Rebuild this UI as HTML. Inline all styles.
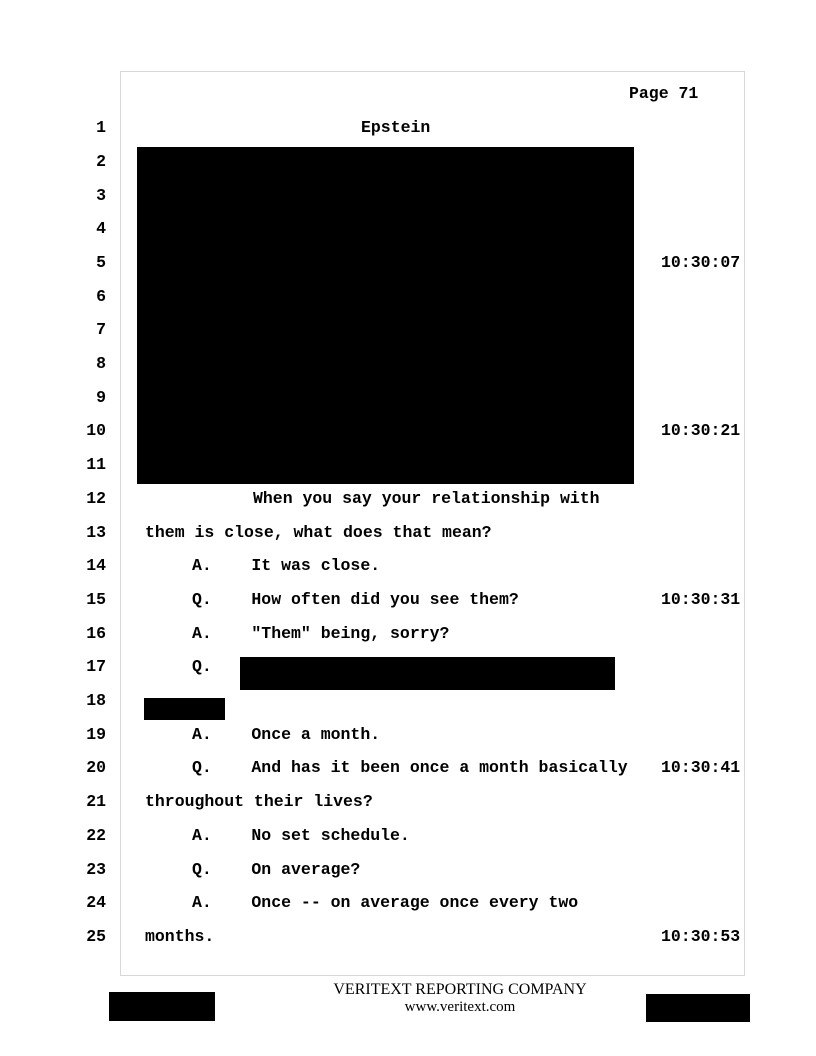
<!DOCTYPE html>
<html><head><style>
body{margin:0;width:816px;height:1056px;background:#fff;position:relative;overflow:hidden;font-family:"Liberation Mono",monospace;font-weight:bold;font-size:16.5px;color:#000}
.t{position:absolute;white-space:pre;line-height:20px}
.n{position:absolute;right:710px;line-height:20px}
.r{position:absolute;background:#000}
.box{position:absolute;left:120px;top:71px;width:623px;height:903px;border:1px solid #d8d8d8}
.f{position:absolute;font-family:"Liberation Serif",serif;font-weight:normal;width:816px;left:50px;text-align:center;font-size:16px}
</style></head><body>
<div class="box"></div>
<div class="t" style="left:629px;top:84px">Page 71</div>
<div class="n" style="top:118px">1</div><div class="t" style="left:361px;top:118px">Epstein</div>
<div class="n" style="top:152px">2</div>
<div class="n" style="top:186px">3</div>
<div class="n" style="top:219px">4</div>
<div class="n" style="top:253px">5</div><div class="t" style="left:661px;top:253px">10:30:07</div>
<div class="n" style="top:287px">6</div>
<div class="n" style="top:320px">7</div>
<div class="n" style="top:354px">8</div>
<div class="n" style="top:388px">9</div>
<div class="n" style="top:421px">10</div><div class="t" style="left:661px;top:421px">10:30:21</div>
<div class="n" style="top:455px">11</div>
<div class="n" style="top:489px">12</div><div class="t" style="left:253px;top:489px">When you say your relationship with</div>
<div class="n" style="top:523px">13</div><div class="t" style="left:145px;top:523px">them is close, what does that mean?</div>
<div class="n" style="top:556px">14</div><div class="t" style="left:192px;top:556px">A.    It was close.</div>
<div class="n" style="top:590px">15</div><div class="t" style="left:192px;top:590px">Q.    How often did you see them?</div><div class="t" style="left:661px;top:590px">10:30:31</div>
<div class="n" style="top:624px">16</div><div class="t" style="left:192px;top:624px">A.    "Them" being, sorry?</div>
<div class="n" style="top:657px">17</div><div class="t" style="left:192px;top:657px">Q.</div>
<div class="n" style="top:691px">18</div>
<div class="n" style="top:725px">19</div><div class="t" style="left:192px;top:725px">A.    Once a month.</div>
<div class="n" style="top:758px">20</div><div class="t" style="left:192px;top:758px">Q.    And has it been once a month basically</div><div class="t" style="left:661px;top:758px">10:30:41</div>
<div class="n" style="top:792px">21</div><div class="t" style="left:145px;top:792px">throughout their lives?</div>
<div class="n" style="top:826px">22</div><div class="t" style="left:192px;top:826px">A.    No set schedule.</div>
<div class="n" style="top:860px">23</div><div class="t" style="left:192px;top:860px">Q.    On average?</div>
<div class="n" style="top:893px">24</div><div class="t" style="left:192px;top:893px">A.    Once -- on average once every two</div>
<div class="n" style="top:927px">25</div><div class="t" style="left:145px;top:927px">months.</div><div class="t" style="left:661px;top:927px">10:30:53</div>
<div class="r" style="left:137px;top:147px;width:497px;height:337px"></div>
<div class="r" style="left:240px;top:657px;width:375px;height:33px"></div>
<div class="r" style="left:144px;top:698px;width:81px;height:22px"></div>
<div class="r" style="left:109px;top:992px;width:106px;height:29px"></div>
<div class="r" style="left:646px;top:994px;width:104px;height:28px"></div>
<div class="f" style="left:52px;top:981px">VERITEXT REPORTING COMPANY</div>
<div class="f" style="left:52px;top:999px;font-size:15px">www.veritext.com</div>
</body></html>
